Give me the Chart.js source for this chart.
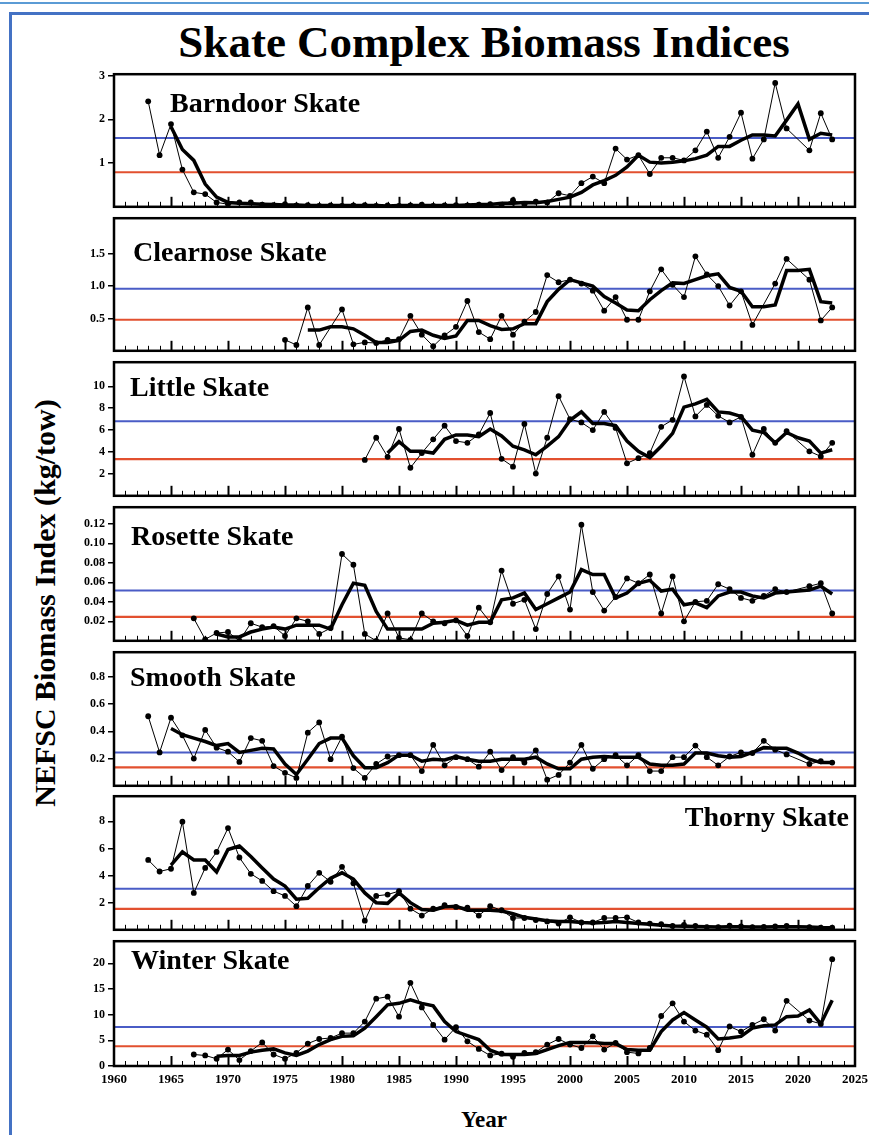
<!DOCTYPE html>
<html lang="en">
<head>
  <meta charset="UTF-8">
  <title>Skate Complex Biomass Indices</title>
  <script src="https://cdn.jsdelivr.net/npm/chart.js@4.4.1/dist/chart.umd.min.js"></script>
  <style>
    body { margin: 0; background: #fff; }
    #page {
      position: relative;
      width: 869px;
      height: 1135px;
      overflow: hidden;
      font-family: 'Liberation Serif', 'Times New Roman', serif;
      color: #000;
    }
    .topline { position: absolute; left: 0; top: 2px; width: 869px; height: 2px; background: #5b9bd5; }
    .frame {
      position: absolute; left: 9px; top: 12px; width: 900px; height: 1200px;
      border-left: 3px solid #4472c4; border-top: 3px solid #4472c4;
    }
    .txt { position: absolute; font-weight: bold; line-height: 1; white-space: nowrap; }
    #title { left: 0; width: 968px; text-align: center; top: 20px; font-size: 45px; }
    #ytitle {
      left: 45px; top: 603px; font-size: 30px;
      transform: translate(-50%, -50%) rotate(-90deg);
    }
    #xtitle { left: 461px; top: 1108px; font-size: 23px; }
    .name { font-size: 28px; }
    .panel { position: absolute; left: 58px; width: 821px; }
  </style>
</head>
<body>
<div id="page">
  <div class="topline"></div>
  <div class="frame"></div>
  <div class="txt" id="title">Skate Complex Biomass Indices</div>
  <div class="txt" id="ytitle">NEFSC Biomass Index (kg/tow)</div>
  <div class="txt" id="xtitle">Year</div>
</div>

<script>
// survey years, 1963 - 2023 (no survey in 2020)
const years = [1963,1964,1965,1966,1967,1968,1969,1970,1971,1972,1973,1974,1975,1976,1977,1978,1979,1980,
  1981,1982,1983,1984,1985,1986,1987,1988,1989,1990,1991,1992,1993,1994,1995,1996,1997,1998,1999,2000,
  2001,2002,2003,2004,2005,2006,2007,2008,2009,2010,2011,2012,2013,2014,2015,2016,2017,2018,2019,2020,
  2021,2022,2023];

// annual index (thin line + dots) and 3-yr moving average (thick line)
const barndoorIdx = [2.41,1.18,1.89,0.85,0.33,0.29,0.10,0.06,0.10,0.10,0.05,0.04,0.06,0.03,0.04,0.02,0.03,0.02,
  0.03,0.04,0.02,0.03,0.02,0.03,0.05,0.02,0.03,0.04,0.03,0.05,0.06,0.04,0.15,0.05,0.12,0.10,0.31,0.25,
  0.54,0.69,0.54,1.33,1.08,1.18,0.75,1.12,1.12,1.06,1.29,1.72,1.12,1.60,2.15,1.10,1.54,2.83,1.79,null,
  1.29,2.14,1.54];
const barndoorAvg = [null,null,1.83,1.31,1.06,0.52,0.22,0.10,0.08,0.07,0.06,0.05,0.04,0.04,0.03,0.03,0.03,0.03,
  0.03,0.03,0.03,0.02,0.03,0.03,0.03,0.03,0.03,0.03,0.04,0.05,0.05,0.08,0.08,0.10,0.09,0.12,0.17,0.22,
  0.33,0.50,0.60,0.72,0.91,1.18,1.02,1.00,1.02,1.05,1.10,1.18,1.38,1.38,1.52,1.64,1.64,1.62,1.98,2.35,
  1.54,1.68,1.64];

const clearnoseIdx = [null,null,null,null,null,null,null,null,null,null,null,null,0.17,0.09,0.67,0.09,null,0.64,
  0.10,0.13,0.12,0.17,0.18,0.54,0.25,0.07,0.24,0.37,0.77,0.29,0.18,0.54,0.25,0.45,0.60,1.17,1.06,1.10,
  1.04,0.93,0.62,0.83,0.48,0.48,0.92,1.26,1.02,0.83,1.46,1.18,1.00,0.70,0.92,0.40,null,1.04,1.42,null,
  1.10,0.47,0.67];
const clearnoseAvg = [null,null,null,null,null,null,null,null,null,null,null,null,null,null,0.32,0.32,0.37,0.37,
  0.34,0.24,0.13,0.13,0.16,0.30,0.32,0.24,0.19,0.23,0.47,0.47,0.39,0.33,0.34,0.42,0.42,0.76,0.95,1.10,
  1.05,1.00,0.84,0.74,0.63,0.62,0.79,0.93,1.05,1.04,1.10,1.16,1.19,0.98,0.92,0.68,0.68,0.71,1.24,1.24,
  1.26,0.76,0.74];

const littleIdx = [null,null,null,null,null,null,null,null,null,null,null,null,null,null,null,null,null,null,
  null,3.28,5.30,3.56,6.10,2.56,3.90,5.16,6.40,5.00,4.84,5.60,7.56,3.38,2.66,6.56,2.03,5.30,9.10,7.00,
  6.70,6.00,7.66,6.20,2.97,3.44,3.90,6.30,6.94,10.9,7.25,8.30,7.30,6.70,7.20,3.75,6.10,4.84,5.90,null,
  4.06,3.60,4.84];
const littleAvg = [null,null,null,null,null,null,null,null,null,null,null,null,null,null,null,null,null,null,
  null,null,null,3.90,4.94,4.06,4.06,3.90,5.16,5.56,5.56,5.40,6.10,5.47,4.53,4.20,3.75,4.53,5.40,6.90,
  7.66,6.60,6.60,6.40,5.00,4.06,3.50,4.53,5.70,8.10,8.40,8.80,7.66,7.56,7.25,6.00,5.78,4.84,5.78,5.30,
  5.00,3.90,4.20];

const rosetteIdx = [null,null,null,null,0.023,0.0015,0.008,0.009,0.000,0.018,0.014,0.015,0.005,0.023,0.020,0.007,0.013,0.089,
  0.078,0.007,0.000,0.028,0.003,0.001,0.028,0.020,0.018,0.021,0.005,0.034,0.019,0.072,0.038,0.042,0.012,0.048,0.066,0.032,
  0.119,0.050,0.031,0.045,0.064,0.059,0.068,0.028,0.066,0.020,0.040,0.041,0.058,0.053,0.044,0.041,0.046,0.053,0.050,null,
  0.056,0.059,0.028];
const rosetteAvg = [null,null,null,null,null,null,0.007,0.004,0.004,0.009,0.012,0.014,0.012,0.016,0.016,0.016,0.012,0.037,
  0.059,0.057,0.030,0.012,0.012,0.012,0.012,0.018,0.019,0.021,0.016,0.019,0.019,0.042,0.044,0.049,0.032,0.038,0.044,0.050,
  0.073,0.068,0.068,0.044,0.049,0.059,0.062,0.051,0.053,0.037,0.039,0.034,0.046,0.050,0.050,0.046,0.044,0.049,0.050,0.051,
  0.052,0.056,0.048];

const smoothIdx = [0.51,0.245,0.50,0.37,0.20,0.41,0.28,0.25,0.175,0.35,0.33,0.145,0.095,0.058,0.39,0.465,0.195,0.36,
  0.13,0.058,0.16,0.215,0.225,0.225,0.108,0.30,0.15,0.21,0.195,0.14,0.25,0.115,0.21,0.17,0.26,0.045,0.08,0.17,
  0.30,0.125,0.195,0.225,0.15,0.225,0.108,0.108,0.21,0.21,0.295,0.21,0.15,0.215,0.245,0.24,0.33,0.265,0.23,null,
  0.16,0.18,0.17];
const smoothAvg = [null,null,0.42,0.375,0.35,0.325,0.295,0.31,0.245,0.26,0.275,0.27,0.16,0.083,0.195,0.31,0.35,0.35,
  0.22,0.133,0.133,0.17,0.225,0.225,0.18,0.195,0.19,0.215,0.195,0.18,0.18,0.195,0.195,0.195,0.21,0.16,0.125,0.125,
  0.195,0.21,0.215,0.21,0.21,0.21,0.16,0.15,0.15,0.16,0.24,0.24,0.22,0.21,0.215,0.245,0.28,0.275,0.275,0.24,
  0.195,0.17,0.17];

const thornyIdx = [5.15,4.30,4.50,7.97,2.72,4.56,5.74,7.50,5.33,4.13,3.60,2.85,2.50,1.74,3.23,4.20,3.54,4.64,
  3.43,0.67,2.50,2.60,2.85,1.56,1.05,1.56,1.82,1.69,1.64,1.05,1.74,1.44,0.87,0.87,0.72,0.62,0.46,0.92,
  0.54,0.54,0.87,0.87,0.92,0.54,0.46,0.41,0.28,0.36,0.28,0.20,0.20,0.30,0.25,0.20,0.22,0.25,0.28,null,
  0.20,0.15,0.15];
const thornyAvg = [null,null,4.77,5.74,5.15,5.15,4.26,5.92,6.18,5.41,4.56,3.74,3.23,2.26,2.33,3.10,3.80,4.20,
  3.74,2.72,2.00,1.95,2.72,2.00,1.49,1.44,1.69,1.74,1.44,1.44,1.44,1.38,1.18,0.92,0.80,0.67,0.62,0.62,
  0.54,0.51,0.54,0.62,0.54,0.46,0.41,0.33,0.28,0.27,0.25,0.23,0.21,0.22,0.22,0.21,0.21,0.22,0.22,0.22,
  0.20,0.17,0.16];

const winterIdx = [null,null,null,null,2.24,2.05,1.41,3.20,1.15,2.90,4.60,2.24,1.41,2.56,4.36,5.26,5.45,6.40,
  6.40,8.65,13.1,13.5,9.60,16.2,11.4,8.00,5.13,7.56,4.80,3.33,2.05,2.40,1.80,2.56,2.70,4.17,5.26,4.17,
  3.50,5.77,3.20,4.50,2.70,2.44,3.50,9.74,12.2,8.65,6.90,6.10,3.08,7.70,6.70,8.00,9.10,6.90,12.7,null,
  8.85,8.20,20.8];
const winterAvg = [null,null,null,null,null,null,1.90,2.05,2.05,2.70,3.08,3.33,2.56,2.05,2.90,4.17,5.13,5.77,
  5.90,7.37,9.60,11.9,12.2,12.9,12.2,11.7,8.65,6.70,5.90,5.13,3.08,2.24,2.24,2.24,2.44,3.20,3.97,4.60,
  4.60,4.60,4.36,4.36,3.20,3.08,3.08,6.70,8.97,10.4,8.97,7.56,5.26,5.45,5.77,7.37,7.82,8.00,9.60,9.74,
  10.9,8.20,12.8];

// reference levels [upper (blue), lower (red)]
const barndoorRefs = [1.57, 0.79];
const clearnoseRefs = [0.96, 0.48];
const littleRefs = [6.8, 3.35];
const rosetteRefs = [0.0515, 0.0246];
const smoothRefs = [0.245, 0.135];
const thornyRefs = [3.03, 1.54];
const winterRefs = [7.6, 3.85];

// y tick labels per panel
const barndoorTicks = [1, 2, 3];
const clearnoseTicks = [0.5, 1.0, 1.5];
const littleTicks = [2, 4, 6, 8, 10];
const rosetteTicks = [0.02, 0.04, 0.06, 0.08, 0.10, 0.12];
const smoothTicks = [0.2, 0.4, 0.6, 0.8];
const thornyTicks = [2, 4, 6, 8];
const winterTicks = [0, 5, 10, 15, 20];

const xTicks = [1960, 1965, 1970, 1975, 1980, 1985, 1990, 1995, 2000, 2005, 2010, 2015, 2020, 2025];

const panels = [
  { name: 'Barndoor Skate', idx: barndoorIdx, avg: barndoorAvg, refs: barndoorRefs, ticks: barndoorTicks, max: 3.03, dec: 0,
    top: 74, h: 133, label: { left: 170, top: 89 } },
  { name: 'Clearnose Skate', idx: clearnoseIdx, avg: clearnoseAvg, refs: clearnoseRefs, ticks: clearnoseTicks, max: 2.05, dec: 1,
    top: 218, h: 133, label: { left: 133, top: 238 } },
  { name: 'Little Skate', idx: littleIdx, avg: littleAvg, refs: littleRefs, ticks: littleTicks, max: 12.2, dec: 0,
    top: 362, h: 134, label: { left: 130, top: 373 } },
  { name: 'Rosette Skate', idx: rosetteIdx, avg: rosetteAvg, refs: rosetteRefs, ticks: rosetteTicks, max: 0.137, dec: 2,
    top: 507, h: 134, label: { left: 131, top: 522 } },
  { name: 'Smooth Skate', idx: smoothIdx, avg: smoothAvg, refs: smoothRefs, ticks: smoothTicks, max: 0.98, dec: 1,
    top: 652, h: 134, label: { left: 130, top: 663 } },
  { name: 'Thorny Skate', idx: thornyIdx, avg: thornyAvg, refs: thornyRefs, ticks: thornyTicks, max: 9.85, dec: 0,
    top: 796, h: 134, label: { right: 20, top: 803 } },
  { name: 'Winter Skate', idx: winterIdx, avg: winterAvg, refs: winterRefs, ticks: winterTicks, max: 24.3, dec: 0,
    top: 941, h: 125, label: { left: 131, top: 946 } }
];

const serif = "'Liberation Serif', 'Times New Roman', serif";

// frame round each panel + the small year ticks standing inside the bottom axis
const panelFrame = {
  id: 'panelFrame',
  afterDatasetsDraw(chart) {
    const { ctx, chartArea: a } = chart;
    const x = chart.scales.x;
    ctx.save();
    ctx.strokeStyle = '#000';
    for (let yr = 1961; yr < 2025; yr++) {
      const px = Math.round(x.getPixelForValue(yr)) + 0.5;
      const major = yr % 5 === 0;
      ctx.lineWidth = major ? 2 : 1;
      ctx.beginPath();
      ctx.moveTo(px, a.bottom);
      ctx.lineTo(px, a.bottom - (major ? 10 : 5));
      ctx.stroke();
    }
    ctx.lineWidth = 2.5;
    ctx.strokeRect(a.left, a.top, a.right - a.left, a.bottom - a.top);
    ctx.restore();
  }
};

const page = document.getElementById('page');

panels.forEach((p, i) => {
  const last = i === panels.length - 1;
  const padTop = 10, padBottom = last ? 0 : 10, axisH = last ? 32 : 0;

  const wrap = document.createElement('div');
  wrap.className = 'panel';
  wrap.style.top = (p.top - padTop) + 'px';
  wrap.style.height = (p.h + padTop + padBottom + axisH) + 'px';
  const canvas = document.createElement('canvas');
  wrap.appendChild(canvas);
  page.appendChild(wrap);

  const lab = document.createElement('div');
  lab.className = 'txt name';
  lab.textContent = p.name;
  lab.style.top = p.label.top + 'px';
  if (p.label.right !== undefined) lab.style.right = p.label.right + 'px';
  else lab.style.left = p.label.left + 'px';
  page.appendChild(lab);

  const pts = arr => years.map((yr, k) => ({ x: yr, y: arr[k] }));
  const flat = v => [{ x: 1960, y: v }, { x: 2025, y: v }];

  new Chart(canvas, {
    type: 'line',
    data: {
      datasets: [
        { data: pts(p.avg), borderColor: '#000', borderWidth: 3.5, pointRadius: 0, spanGaps: true },
        { data: pts(p.idx), borderColor: '#000', borderWidth: 1, pointRadius: 2.9,
          pointBackgroundColor: '#000', pointBorderWidth: 0, spanGaps: true },
        { data: flat(p.refs[0]), borderColor: '#4a5cc6', borderWidth: 2, pointRadius: 0 },
        { data: flat(p.refs[1]), borderColor: '#e2502f', borderWidth: 2.2, pointRadius: 0 }
      ]
    },
    options: {
      responsive: true,
      maintainAspectRatio: false,
      animation: false,
      events: [],
      layout: { padding: { top: padTop, bottom: padBottom, left: 0, right: 24 } },
      plugins: { legend: { display: false }, tooltip: { enabled: false } },
      scales: {
        x: {
          type: 'linear', min: 1960, max: 2025,
          display: last,
          afterFit: s => { s.height = axisH; },
          afterBuildTicks: s => { s.ticks = xTicks.map(v => ({ value: v })); },
          ticks: { autoSkip: false, maxRotation: 0, padding: 6, color: '#000',
            font: { family: serif, size: 13, weight: 'bold' }, callback: v => String(v) },
          grid: { display: false, drawTicks: false },
          border: { display: false }
        },
        y: {
          min: 0, max: p.max,
          afterFit: s => { s.width = 56; },
          afterBuildTicks: s => { s.ticks = p.ticks.map(v => ({ value: v })); },
          ticks: { padding: 3, color: '#000', font: { family: serif, size: 12, weight: 'bold' },
            callback: v => v.toFixed(p.dec) },
          grid: { drawOnChartArea: false, drawTicks: true, tickLength: 6, color: '#000', lineWidth: 1.5 },
          border: { display: false }
        }
      }
    },
    plugins: [panelFrame]
  });
});
</script>
</body>
</html>
